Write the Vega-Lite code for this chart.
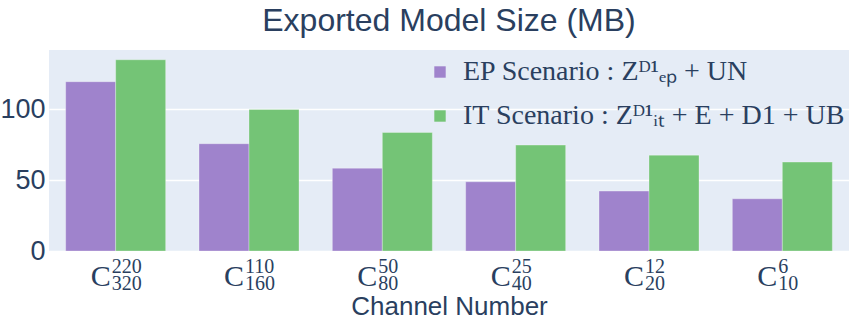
{
  "$schema": "https://vega.github.io/schema/vega-lite/v6.json",
  "width": 800,
  "height": 201,
  "autosize": {"type": "none"},
  "padding": {"left": 49, "top": 50, "right": 1, "bottom": 69},
  "background": "white",
  "title": {
    "text": "Exported Model Size (MB)",
    "font": "Liberation Sans",
    "fontSize": 32,
    "fontWeight": "normal",
    "color": "#2a3f5f",
    "anchor": "middle",
    "offset": 12
  },
  "datasets": {
    "sizes": [
      {"channel": "C_320^220", "scenario": "EP Scenario", "size": 119.6},
      {"channel": "C_320^220", "scenario": "IT Scenario", "size": 135.1},
      {"channel": "C_160^110", "scenario": "EP Scenario", "size": 75.8},
      {"channel": "C_160^110", "scenario": "IT Scenario", "size": 100},
      {"channel": "C_80^50", "scenario": "EP Scenario", "size": 58.5},
      {"channel": "C_80^50", "scenario": "IT Scenario", "size": 83.7},
      {"channel": "C_40^25", "scenario": "EP Scenario", "size": 48.9},
      {"channel": "C_40^25", "scenario": "IT Scenario", "size": 74.8},
      {"channel": "C_20^12", "scenario": "EP Scenario", "size": 42.3},
      {"channel": "C_20^12", "scenario": "IT Scenario", "size": 67.7},
      {"channel": "C_10^6", "scenario": "EP Scenario", "size": 36.9},
      {"channel": "C_10^6", "scenario": "IT Scenario", "size": 62.8}
    ],
    "ticks": [
      {"channel": "C_320^220", "base": "C", "sup": "220", "sub": "320"},
      {"channel": "C_160^110", "base": "C", "sup": "110", "sub": "160"},
      {"channel": "C_80^50", "base": "C", "sup": "50", "sub": "80"},
      {"channel": "C_40^25", "base": "C", "sup": "25", "sub": "40"},
      {"channel": "C_20^12", "base": "C", "sup": "12", "sub": "20"},
      {"channel": "C_10^6", "base": "C", "sup": "6", "sub": "10"}
    ]
  },
  "layer": [
    {
      "data": {"name": "sizes"},
      "mark": {"type": "bar", "stroke": "white", "strokeWidth": 0.6, "strokeOpacity": 0.5},
      "encoding": {
        "x": {
          "field": "channel",
          "type": "nominal",
          "sort": null,
          "scale": {"paddingInner": 0.25, "paddingOuter": 0.125},
          "axis": {
            "title": "Channel Number",
            "labels": false,
            "ticks": false,
            "domain": false,
            "grid": false,
            "titleFont": "Liberation Sans",
            "titleFontSize": 26,
            "titleFontWeight": "normal",
            "titleColor": "#2a3f5f",
            "titlePadding": 42
          }
        },
        "xOffset": {"field": "scenario", "type": "nominal", "sort": null},
        "y": {
          "field": "size",
          "type": "quantitative",
          "scale": {"domain": [0, 142], "nice": false, "zero": true},
          "axis": {
            "title": null,
            "values": [0, 50, 100],
            "ticks": false,
            "domain": false,
            "grid": true,
            "gridColor": "white",
            "gridWidth": 1.5,
            "labelFont": "Liberation Sans",
            "labelFontSize": 27,
            "labelColor": "#2a3f5f",
            "labelPadding": 4
          }
        },
        "color": {
          "field": "scenario",
          "type": "nominal",
          "sort": null,
          "scale": {"range": ["#9F83CC", "#74C476"]},
          "legend": {
            "title": null,
            "orient": "none",
            "legendX": 377,
            "legendY": 8,
            "padding": 0,
            "symbolType": "square",
            "symbolSize": 130,
            "symbolStrokeWidth": 0,
            "symbolOpacity": 1,
            "labelFont": "Liberation Serif",
            "labelFontSize": 28,
            "labelColor": "#2a3f5f",
            "labelOffset": 9,
            "labelLimit": 0,
            "rowPadding": 16,
            "labelExpr": "datum.label == 'EP Scenario' ? 'EP Scenario : Zᴰ¹ₑₚ + UN' : 'IT Scenario : Zᴰ¹ᵢₜ + E + D1 + UB'"
          }
        }
      }
    },
    {
      "data": {"name": "ticks"},
      "mark": {"type": "text", "align": "right", "baseline": "alphabetic", "dx": -5, "dy": 35, "font": "Liberation Serif", "fontSize": 30, "color": "#2a3f5f"},
      "encoding": {
        "x": {"field": "channel", "type": "nominal", "sort": null},
        "y": {"datum": 0, "type": "quantitative"},
        "text": {"field": "base"}
      }
    },
    {
      "data": {"name": "ticks"},
      "mark": {"type": "text", "align": "left", "baseline": "alphabetic", "dx": -4, "dy": 22, "font": "Liberation Serif", "fontSize": 20, "color": "#2a3f5f"},
      "encoding": {
        "x": {"field": "channel", "type": "nominal", "sort": null},
        "y": {"datum": 0, "type": "quantitative"},
        "text": {"field": "sup"}
      }
    },
    {
      "data": {"name": "ticks"},
      "mark": {"type": "text", "align": "left", "baseline": "alphabetic", "dx": -4, "dy": 39, "font": "Liberation Serif", "fontSize": 20, "color": "#2a3f5f"},
      "encoding": {
        "x": {"field": "channel", "type": "nominal", "sort": null},
        "y": {"datum": 0, "type": "quantitative"},
        "text": {"field": "sub"}
      }
    }
  ],
  "config": {
    "view": {"fill": "#E5ECF6", "stroke": null}
  }
}
